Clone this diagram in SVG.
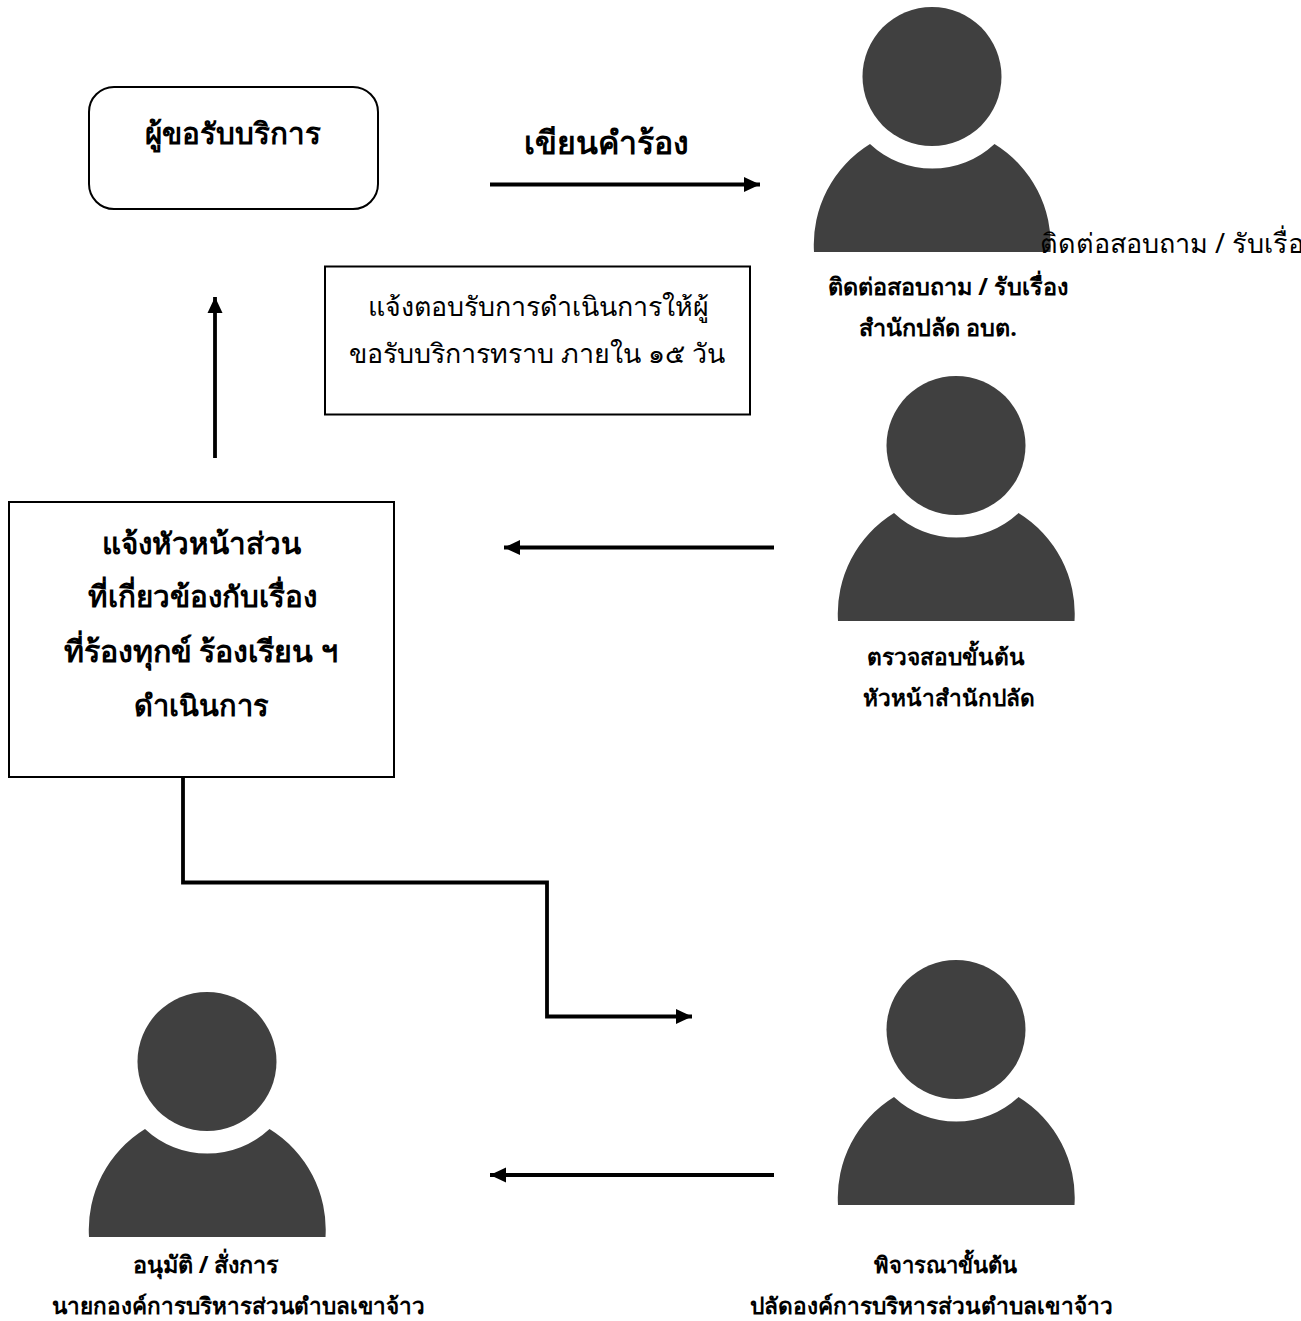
<svg xmlns="http://www.w3.org/2000/svg" width="1301" height="1321" viewBox="0 0 1301 1321">
<defs>
<marker id="arr" markerUnits="userSpaceOnUse" markerWidth="16" markerHeight="16" refX="16" refY="8" orient="auto"><path d="M0 0.500L16 8L0 15.500Z" fill="#000"/></marker>
<symbol id="person" overflow="visible">
<circle cx="118" cy="69.500" r="69.500" fill="#404040"/>
<path d="M0 245A118.200 118.200 0 0 1 56 137A91 91 0 0 0 180.500 137A118.200 118.200 0 0 1 236.500 245Z" fill="#404040"/>
</symbol>
</defs>
<style>
text{font-family:"Noto Sans","Liberation Sans",sans-serif;fill:#000;text-anchor:middle}
.b{font-weight:700;font-size:22.700px}
.c{font-weight:700;font-size:23.400px}
.h{font-weight:700;font-size:29.600px}
.r{font-size:26.800px}
.box{fill:#fff;stroke:#000;stroke-width:2}
.ln{fill:none;stroke:#000;stroke-width:3.800}
</style>
<rect width="1301" height="1321" fill="#fff"/>
<g id="connectors">
<line class="ln" x1="490" y1="184.500" x2="760" y2="184.500" marker-end="url(#arr)"/>
<line class="ln" x1="215" y1="458" x2="215" y2="297" marker-end="url(#arr)"/>
<line class="ln" x1="774" y1="547.500" x2="504" y2="547.500" marker-end="url(#arr)"/>
<path class="ln" d="M183 777V882.500H547V1016.500H692" marker-end="url(#arr)"/>
<line class="ln" x1="774" y1="1175" x2="490" y2="1175" marker-end="url(#arr)"/>
</g>
<g id="n1"><rect class="box" x="89" y="87" width="289" height="122" rx="25"/><text class="h" x="233" y="144">ผู้ขอรับบริการ</text></g>
<g id="lbl1"><text class="h" style="font-size:32px" x="606.500" y="154">เขียนคำร้อง</text></g>
<g id="p1"><use href="#person" x="814" y="7"/><text class="r" x="1040" y="253" style="text-anchor:start;font-size:27px">ติดต่อสอบถาม / รับเรื่อง</text><text class="c" x="948" y="295">ติดต่อสอบถาม / รับเรื่อง</text><text class="c" x="938" y="336">สำนักปลัด อบต.</text></g>
<g id="n2"><rect class="box" x="325" y="266.500" width="425" height="148"/><text class="r" x="538" y="316">แจ้งตอบรับการดำเนินการให้ผู้</text><text class="r" x="537" y="363">ขอรับบริการทราบ ภายใน ๑๕ วัน</text></g>
<g id="p2"><use href="#person" x="838" y="376"/><text class="b" x="946" y="665">ตรวจสอบขั้นต้น</text><text class="b" x="949" y="706">หัวหน้าสำนักปลัด</text></g>
<g id="n3"><rect class="box" x="9" y="502" width="385" height="275"/><text class="h" x="201" y="554">แจ้งหัวหน้าส่วน</text><text class="h" x="202" y="607">ที่เกี่ยวข้องกับเรื่อง</text><text class="h" style="font-size:30.400px" x="201" y="662">ที่ร้องทุกข์ ร้องเรียน ฯ</text><text class="h" style="font-size:29px" x="201" y="716">ดำเนินการ</text></g>
<g id="p3"><use href="#person" x="838" y="960"/><text class="b" style="font-size:22px" x="945" y="1273">พิจารณาขั้นต้น</text><text class="b" x="931" y="1314">ปลัดองค์การบริหารส่วนตำบลเขาจ้าว</text></g>
<g id="p4"><use href="#person" x="89" y="992"/><text class="c" x="206" y="1273">อนุมัติ / สั่งการ</text><text class="b" style="font-size:22.500px" x="238" y="1314">นายกองค์การบริหารส่วนตำบลเขาจ้าว</text></g>
</svg>
